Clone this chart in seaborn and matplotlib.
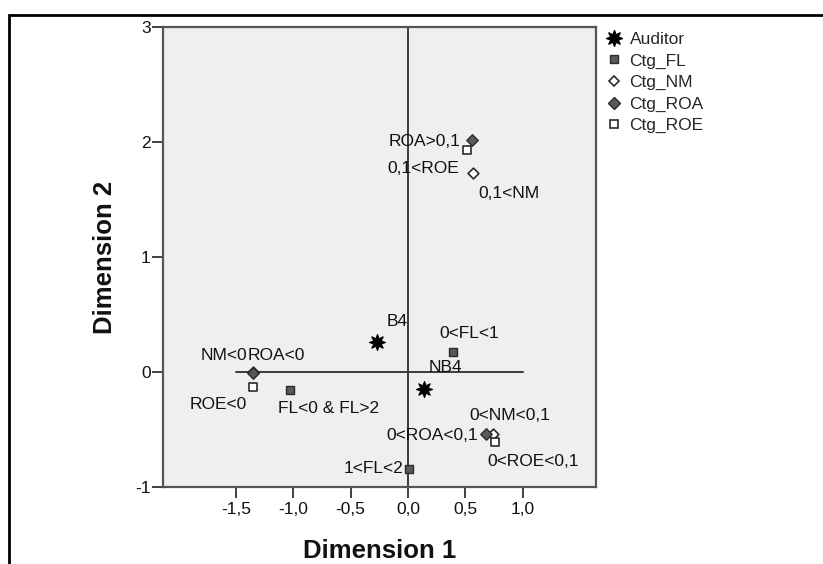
import numpy as np
import pandas as pd
import matplotlib
matplotlib.use('Agg')
import matplotlib.pyplot as plt
import seaborn as sns
from matplotlib.lines import Line2D
from matplotlib.patches import Rectangle

# ---------------- data ----------------
groups = ['Auditor', 'Ctg_FL', 'Ctg_NM', 'Ctg_ROA', 'Ctg_ROE']

auditor_labels = ['B4', 'NB4']
auditor_x = [-0.27, 0.14]
auditor_y = [0.26, -0.15]

fl_labels = ['0<FL<1', 'FL<0 & FL>2', '1<FL<2']
fl_x = [0.39, -1.03, 0.01]
fl_y = [0.17, -0.16, -0.84]

nm_labels = ['0,1<NM', 'NM<0', '0<NM<0,1']
nm_x = [0.57, -1.35, 0.74]
nm_y = [1.73, 0.00, -0.54]

roa_labels = ['ROA>0,1', 'ROA<0', '0<ROA<0,1']
roa_x = [0.56, -1.35, 0.68]
roa_y = [2.02, -0.01, -0.54]

roe_labels = ['0,1<ROE', 'ROE<0', '0<ROE<0,1']
roe_x = [0.51, -1.35, 0.76]
roe_y = [1.93, -0.13, -0.61]

x_ticks = [-1.5, -1.0, -0.5, 0.0, 0.5, 1.0]
x_tick_labels = ['-1,5', '-1,0', '-0,5', '0,0', '0,5', '1,0']
y_ticks = [-1, 0, 1, 2, 3]
y_tick_labels = ['-1', '0', '1', '2', '3']

x_title = 'Dimension 1'
y_title = 'Dimension 2'

# ---------------- styling ----------------
sns.set_theme(style='white')
plt.rcParams['font.family'] = ['Liberation Sans', 'DejaVu Sans']

FS = 12.5
dark = '#2b2b2b'
grey_fill = '#5a5a5a'

star = (8, 1, 0)
styles = {
    'Auditor': dict(marker=star, s=135, color='black', edgecolor='black', linewidth=0.8),
    'Ctg_FL': dict(marker='s', s=38, color=grey_fill, edgecolor=dark, linewidth=1.0),
    'Ctg_NM': dict(marker='D', s=30, color='white', edgecolor=dark, linewidth=1.2),
    'Ctg_ROA': dict(marker='D', s=34, color=grey_fill, edgecolor=dark, linewidth=1.0),
    'Ctg_ROE': dict(marker='s', s=38, color='white', edgecolor=dark, linewidth=1.2),
}

# label offsets in pixels (dx, dy, ha)
offsets = {
    'B4': (10, 21, 'left'),
    'NB4': (5, 22, 'left'),
    '0<FL<1': (17, 19, 'center'),
    'FL<0 & FL>2': (-12, -18, 'left'),
    '1<FL<2': (-6, 0, 'right'),
    '0,1<NM': (5, -20, 'left'),
    'NM<0': (-6, 16, 'right'),
    '0<NM<0,1': (17, 19, 'center'),
    'ROA>0,1': (-12, -2, 'right'),
    'ROA<0': (-5, 18, 'left'),
    '0<ROA<0,1': (-8, -1, 'right'),
    '0,1<ROE': (-7, -18, 'right'),
    'ROE<0': (-6, -18, 'right'),
    '0<ROE<0,1': (-8, -19, 'left'),
}

frames = []
for g, labs, xs, ys in [
    ('Auditor', auditor_labels, auditor_x, auditor_y),
    ('Ctg_FL', fl_labels, fl_x, fl_y),
    ('Ctg_NM', nm_labels, nm_x, nm_y),
    ('Ctg_ROA', roa_labels, roa_x, roa_y),
    ('Ctg_ROE', roe_labels, roe_x, roe_y),
]:
    frames.append(pd.DataFrame({'group': g, 'label': labs, 'x': xs, 'y': ys}))
df = pd.concat(frames, ignore_index=True)

W, H = 823, 564
fig = plt.figure(figsize=(W / 100, H / 100), dpi=100)
ax = fig.add_axes([163 / W, 1 - 487 / H, (596 - 163) / W, (487 - 27) / H])
ax.set_facecolor('#efefef')

# reference lines
ax.plot([0, 0], [y_ticks[0], y_ticks[-1]], color='#3a3a3a', lw=1.4, zorder=1)
ax.plot([x_ticks[0], x_ticks[-1]], [0, 0], color='#3a3a3a', lw=1.4, zorder=1)

for i, g in enumerate(groups):
    sub = df[df['group'] == g]
    sns.scatterplot(data=sub, x='x', y='y', ax=ax, legend=False, zorder=3 + i, **styles[g])

for _, r in df.iterrows():
    dx, dy, ha = offsets[r['label']]
    ax.annotate(r['label'], (r['x'], r['y']), xytext=(dx, dy), textcoords='offset pixels',
                ha=ha, va='center', fontsize=FS, color='#111111', zorder=10)

ax.set_xlim(-2.134, 1.638)
ax.set_ylim(-1, 3)
ax.set_xticks(x_ticks)
ax.set_xticklabels(x_tick_labels)
ax.set_yticks(y_ticks)
ax.set_yticklabels(y_tick_labels)
ax.tick_params(axis='both', direction='out', length=8, width=1.3, color='#333333',
               labelsize=FS, labelcolor='#111111', left=True, bottom=True)
ax.tick_params(axis='y', pad=1)
ax.tick_params(axis='x', pad=3)
for sp in ax.spines.values():
    sp.set_color('#555555')
    sp.set_linewidth(1.6)

ax.set_xlabel(x_title, fontsize=18.5, fontweight='bold', labelpad=16, color='#111111')
ax.set_ylabel(y_title, fontsize=18.5, fontweight='bold', labelpad=13, color='#111111')

# legend
handles = []
for g in groups:
    st = styles[g]
    ms = {'Auditor': 12, 'Ctg_FL': 6, 'Ctg_NM': 5.6, 'Ctg_ROA': 6, 'Ctg_ROE': 6}[g]
    handles.append(Line2D([], [], ls='none', marker=st['marker'], markersize=ms,
                          markerfacecolor=st['color'], markeredgecolor=st['edgecolor'],
                          markeredgewidth=st['linewidth']))
fig.legend(handles, groups, loc='upper left', bbox_to_anchor=(607 / W, 1 - 32 / H),
           frameon=False, fontsize=FS, handlelength=0.8, handletextpad=0.5,
           labelspacing=0.36, borderpad=0, borderaxespad=0)

# outer frame
fig.patches.append(Rectangle((8.5 / W, -0.1), 1.2, (1 - 15 / H) + 0.1, transform=fig.transFigure,
                             fill=False, edgecolor='black', lw=2.0, zorder=0))

fig.savefig('out.png', dpi=100)
